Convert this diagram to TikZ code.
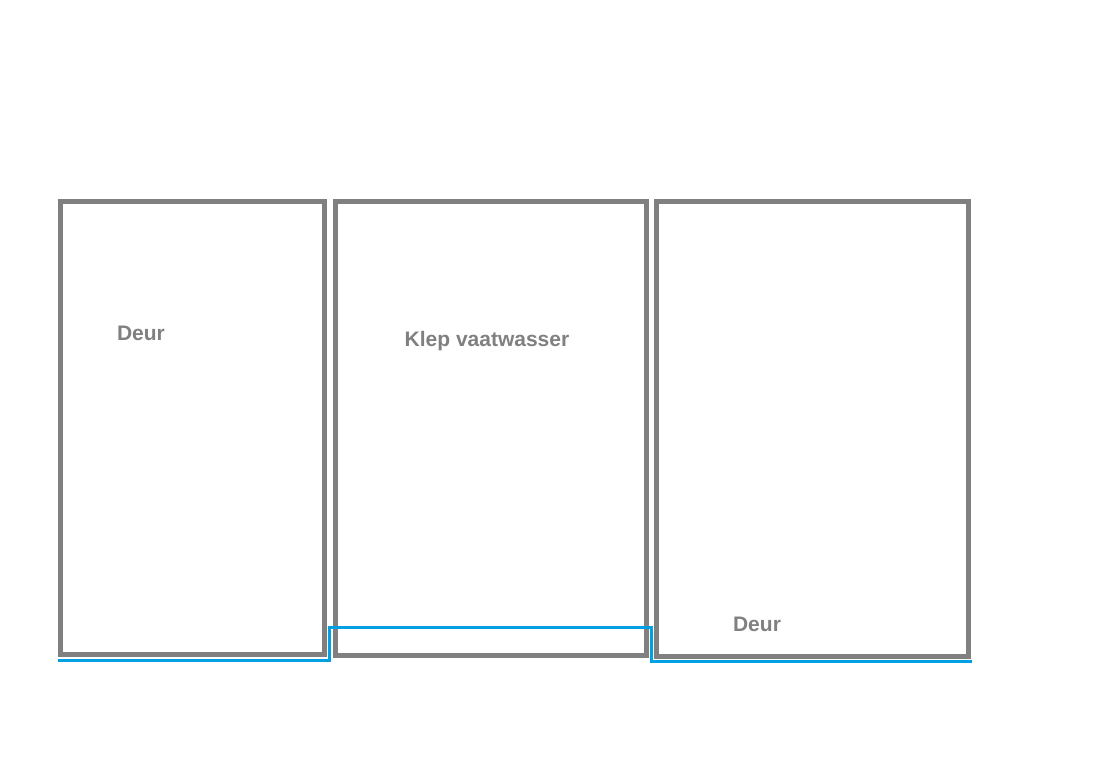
\documentclass[tikz,border=0pt]{standalone}
\usepackage{fontspec}
\setmainfont{Liberation Sans}
\definecolor{gr}{RGB}{128,128,128}
\definecolor{bl}{RGB}{0,160,227}
\begin{document}
\begin{tikzpicture}[x=1pt,y=-1pt,
  panel/.style={draw=gr,line width=5pt},
  lbl/.style={text=gr,font=\bfseries\fontsize{21}{25}\selectfont,inner sep=0pt}]
\useasboundingbox (0,0) rectangle (1117,768);
\draw[panel] (60,201) rectangle (324,654);
\draw[panel] (335,201) rectangle (646,655);
\draw[panel] (656,201) rectangle (968,656);
\node[lbl] (d1) at (141,333) {Deur};
\node[lbl] (k) at (487,341) {Klep vaatwasser};
\node[lbl] (d2) at (757,624) {Deur};
\draw[bl,line width=3pt] (58,660) -- (329,660) -- (329,627) -- (651,627) -- (651,661) -- (972,661);
\end{tikzpicture}
\end{document}
